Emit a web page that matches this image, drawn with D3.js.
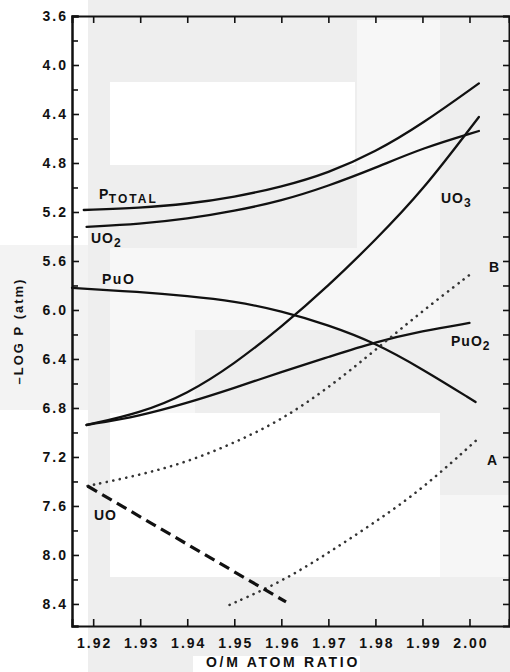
<!DOCTYPE html>
<html>
<head>
<meta charset="utf-8">
<script src="https://cdn.jsdelivr.net/npm/d3@7"></script>
<style>
  html, body { margin: 0; padding: 0; background: #fff; }
  svg { display: block; }
  text { font-family: "Liberation Sans", Arial, sans-serif; font-weight: bold; fill: #111; }
</style>
</head>
<body>
<svg id="chart" width="510" height="672"></svg>
<script>
// ---------- data ----------
const xTicks = [1.92, 1.93, 1.94, 1.95, 1.96, 1.97, 1.98, 1.99, 2.00];
const xTickLabels = ["1.92", "1.93", "1.94", "1.95", "1.96", "1.97", "1.98", "1.99", "2.00"];
const yTicks = [3.6, 4.0, 4.4, 4.8, 5.2, 5.6, 6.0, 6.4, 6.8, 7.2, 7.6, 8.0, 8.4];
const yTickLabels = ["3.6", "4.0", "4.4", "4.8", "5.2", "5.6", "6.0", "6.4", "6.8", "7.2", "7.6", "8.0", "8.4"];
const yMinorTicks = [3.8, 4.2, 4.6, 5.0, 5.4, 5.8, 6.2, 6.6, 7.0, 7.4, 7.8, 8.2];

const pTotal = [[1.918, 5.184], [1.93, 5.167], [1.94, 5.135], [1.95, 5.078], [1.96, 4.996], [1.97, 4.882], [1.98, 4.71], [1.99, 4.48], [2.002, 4.15]];
const uo2 = [[1.9186, 5.322], [1.93, 5.298], [1.94, 5.257], [1.95, 5.192], [1.96, 5.11], [1.97, 4.988], [1.98, 4.841], [1.99, 4.678], [2.002, 4.539]];
const puo = [[1.9155, 5.82], [1.93, 5.853], [1.94, 5.886], [1.95, 5.927], [1.96, 6.008], [1.97, 6.122], [1.98, 6.269], [1.99, 6.482], [2.0013, 6.751]];
const uo3 = [[1.9186, 6.939], [1.93, 6.841], [1.94, 6.686], [1.95, 6.441], [1.96, 6.139], [1.97, 5.804], [1.98, 5.429], [1.99, 5.029], [2.002, 4.424]];
const puo2 = [[1.9186, 6.939], [1.93, 6.865], [1.94, 6.759], [1.95, 6.637], [1.96, 6.506], [1.97, 6.384], [1.98, 6.261], [1.99, 6.171], [2.0, 6.106]];
const curveB = [[1.9188, 7.437], [1.93, 7.347], [1.94, 7.241], [1.95, 7.086], [1.96, 6.898], [1.97, 6.637], [1.98, 6.327], [1.99, 6.008], [2.0, 5.714]];
const curveA = [[1.949, 8.408], [1.96, 8.22], [1.97, 7.984], [1.98, 7.731], [1.99, 7.461], [2.002, 7.045]];
const uo = [[1.9188, 7.437], [1.961, 8.384]];

// ---------- layout ----------
const svg = d3.select("#chart");
const x = d3.scaleLinear().domain([1.9155, 2.0084]).range([72, 509]);
const y = d3.scaleLinear().domain([3.6, 8.58]).range([16, 626]);

// scanned-paper background patches
const bg = svg.append("g");
const patches = [
  [88, 0, 422, 672, "#eeeeee"],
  [0, 245, 88, 165, "#f3f3f3"],
  [110, 82, 245, 83, "#ffffff"],
  [357, 20, 83, 310, "#f7f7f7"],
  [110, 248, 247, 82, "#f7f7f7"],
  [110, 330, 85, 83, "#f6f6f6"],
  [110, 413, 330, 164, "#ffffff"],
  [440, 495, 70, 82, "#f6f6f6"],
  [193, 656, 167, 16, "#ffffff"]
];
bg.selectAll("rect").data(patches).join("rect")
  .attr("x", d => d[0]).attr("y", d => d[1])
  .attr("width", d => d[2]).attr("height", d => d[3])
  .attr("fill", d => d[4]);

// ---------- axes ----------
function styleAxis(g) {
  g.select(".domain").attr("stroke", "#111").attr("stroke-width", 2);
  g.selectAll(".tick line").attr("stroke", "#111").attr("stroke-width", 1.6);
}
function styleLabels(g) {
  g.selectAll(".tick text").attr("font-size", 14).attr("letter-spacing", 2)
    .style("font-family", "'Liberation Sans', Arial, sans-serif").style("font-weight", "bold").attr("fill", "#111");
}

const axLeft = svg.append("g").attr("transform", "translate(72,0)")
  .call(d3.axisLeft(y).tickValues(yTicks).tickSize(-7).tickPadding(4)
    .tickFormat((d, i) => yTickLabels[i]));
styleAxis(axLeft);
styleLabels(axLeft);

const axLeftMinor = svg.append("g").attr("transform", "translate(72,0)")
  .call(d3.axisLeft(y).tickValues(yMinorTicks).tickSize(-6).tickFormat(""));
styleAxis(axLeftMinor);

const axRight = svg.append("g").attr("transform", "translate(509,0)")
  .call(d3.axisRight(y).tickValues(yTicks.concat(yMinorTicks)).tickSize(-6).tickFormat(""));
styleAxis(axRight);

const axBottom = svg.append("g").attr("transform", "translate(0,626)")
  .call(d3.axisBottom(x).tickValues(xTicks).tickSize(-7).tickPadding(12)
    .tickFormat((d, i) => xTickLabels[i]));
styleAxis(axBottom);
styleLabels(axBottom);
axBottom.selectAll(".tick text").attr("dx", 1);

const axTop = svg.append("g").attr("transform", "translate(0,16)")
  .call(d3.axisTop(x).tickValues(xTicks).tickSize(-7).tickFormat(""));
styleAxis(axTop);

// axis titles
svg.append("text").attr("x", 283).attr("y", 667).attr("text-anchor", "middle")
  .attr("font-size", 14).attr("letter-spacing", 2.7).text("O/M ATOM RATIO");
svg.append("text").attr("transform", "translate(23,331) rotate(-90)").attr("text-anchor", "middle")
  .attr("font-size", 13).attr("letter-spacing", 2).text("\u2013LOG P (atm)");

// ---------- curves ----------
const line = d3.line().x(d => x(d[0])).y(d => y(d[1])).curve(d3.curveBasis);
const plot = svg.append("g").attr("fill", "none");

[pTotal, uo2, puo, uo3, puo2].forEach(s => {
  plot.append("path").datum(s).attr("d", line)
    .attr("stroke", "#111").attr("stroke-width", 2.3).attr("stroke-linecap", "round");
});
[curveB, curveA].forEach(s => {
  plot.append("path").datum(s).attr("d", line)
    .attr("stroke", "#333").attr("stroke-width", 2.6)
    .attr("stroke-dasharray", "0.1,6.5").attr("stroke-linecap", "round");
});
plot.append("path").datum(uo).attr("d", line)
  .attr("stroke", "#111").attr("stroke-width", 3.2)
  .attr("stroke-dasharray", "11,6");

// ---------- labels ----------
function label(px, py, main, sub, ls, subLs) {
  const t = svg.append("text").attr("x", px).attr("y", py).attr("font-size", 14)
    .attr("letter-spacing", ls).text(main);
  if (sub) t.append("tspan").attr("dy", 4).attr("font-size", 12)
    .attr("letter-spacing", subLs).text(sub);
}
label(99, 199, "P", "TOTAL", 0.5, 2);
label(91, 243, "UO", "2", 1, 0);
label(102, 284, "PuO", null, 1.5);
label(441, 203, "UO", "3", 1, 0);
label(489, 272, "B", null, 0);
label(451, 346, "PuO", "2", 1, 0);
label(487, 465, "A", null, 0);
label(94, 520, "UO", null, 1);
</script>
</body>
</html>
